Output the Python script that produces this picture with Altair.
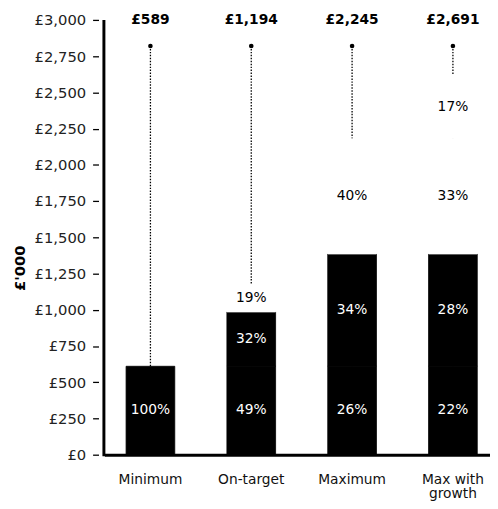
import altair as alt
import pandas as pd

categories = ["Minimum", "On-target", "Maximum", "Max with growth"]
fixed = [610, 610, 610, 610]
bonus = [0, 375, 775, 775]
ltip = [0, 190, 795, 795]
growth = [0, 0, 0, 440]
pct_fixed = ["100%", "49%", "26%", "22%"]
pct_bonus = ["", "32%", "34%", "28%"]
pct_ltip = ["", "19%", "40%", "33%"]
pct_growth = ["", "", "", "17%"]
totals = ["£589", "£1,194", "£2,245", "£2,691"]
marker_level = 2820
label_level = 3000
y_ticks = list(range(0, 3001, 250))

segments = [
    (fixed, pct_fixed, "black", "white"),
    (bonus, pct_bonus, "black", "white"),
    (ltip, pct_ltip, "white", "black"),
    (growth, pct_growth, "white", "black"),
]
rows = []
for i, c in enumerate(categories):
    base = 0
    for vals, pcts, fill, tcol in segments:
        v = vals[i]
        if v > 0:
            rows.append(dict(category=c, start=base, end=base + v, mid=base + v / 2,
                             pct=pcts[i], fill=fill, tcol=tcol))
        base += v
seg_df = pd.DataFrame(rows)
tot_df = pd.DataFrame({"category": categories, "total": totals,
                       "top": [label_level] * 4, "marker": [marker_level] * 4,
                       "zero": [0] * 4})

FONT = "DejaVu Sans"
W, H = 392, 442

xenc = alt.X("category:N", sort=categories,
             scale=alt.Scale(paddingInner=0.517, paddingOuter=0.1706, align=0.63),
             axis=alt.Axis(title=None, domain=True, domainColor="black", domainWidth=3,
                           ticks=False, labelPadding=18, labelFont=FONT, labelFontSize=14,
                           labelColor="#111", labelAngle=0, labelLineHeight=15,
                           labelExpr="datum.label == 'Max with growth' ? ['Max with', 'growth'] : datum.label"))

yaxis = alt.Axis(values=y_ticks, labelExpr="'£' + format(datum.value, ',')",
                 domain=False, grid=False, tickSize=6, offset=6, tickColor="black",
                 tickWidth=1.3, labelPadding=7, labelFont=FONT, labelFontSize=15,
                 labelColor="#222", title="£'000", titleFont=FONT, titleFontSize=15,
                 titleFontWeight="bold", titleColor="black", titleX=-80, titleY=252,
                 titleAngle=270, titleAlign="center", titleBaseline="middle")
yscale = alt.Scale(domain=[0, 3000], nice=False)

dotted = alt.Chart(tot_df).mark_rule(color="black", strokeWidth=1.3, strokeDash=[1.5, 1.5]).encode(
    x=xenc, y=alt.Y("zero:Q", scale=yscale, axis=yaxis), y2="marker:Q")

bars = alt.Chart(seg_df).mark_bar(strokeWidth=0.8).encode(
    x=xenc, y=alt.Y("start:Q", scale=yscale, axis=yaxis), y2="end:Q",
    color=alt.Color("fill:N", scale=None),
    stroke=alt.Stroke("fill:N", scale=None))

dots = alt.Chart(tot_df).mark_circle(color="black", size=22, opacity=1).encode(
    x=xenc, y=alt.Y("marker:Q", scale=yscale, axis=yaxis))

pct_text = alt.Chart(seg_df).mark_text(font=FONT, fontSize=14, baseline="middle").encode(
    x=xenc, y=alt.Y("mid:Q", scale=yscale, axis=yaxis), text="pct:N",
    color=alt.Color("tcol:N", scale=None))

tot_text = alt.Chart(tot_df).mark_text(font=FONT, fontSize=14, fontWeight="bold",
                                       baseline="middle", color="black").encode(
    x=xenc, y=alt.Y("top:Q", scale=yscale, axis=yaxis), text="total:N")

ydomain = alt.Chart(pd.DataFrame({"a": [0]})).mark_rule(color="black", strokeWidth=3).encode(
    x=alt.value(-0.5), y=alt.value(0), y2=alt.value(H + 1.5))

chart = alt.layer(dotted, bars, dots, pct_text, tot_text, ydomain).properties(
    width=W, height=H,
    autosize=alt.AutoSizeParams(type="none"),
    padding={"left": 98, "top": 8, "right": 0, "bottom": 46},
).configure(font=FONT).configure_view(stroke=None)

chart.save("out.html", embed_options={"renderer": "svg", "actions": False})
